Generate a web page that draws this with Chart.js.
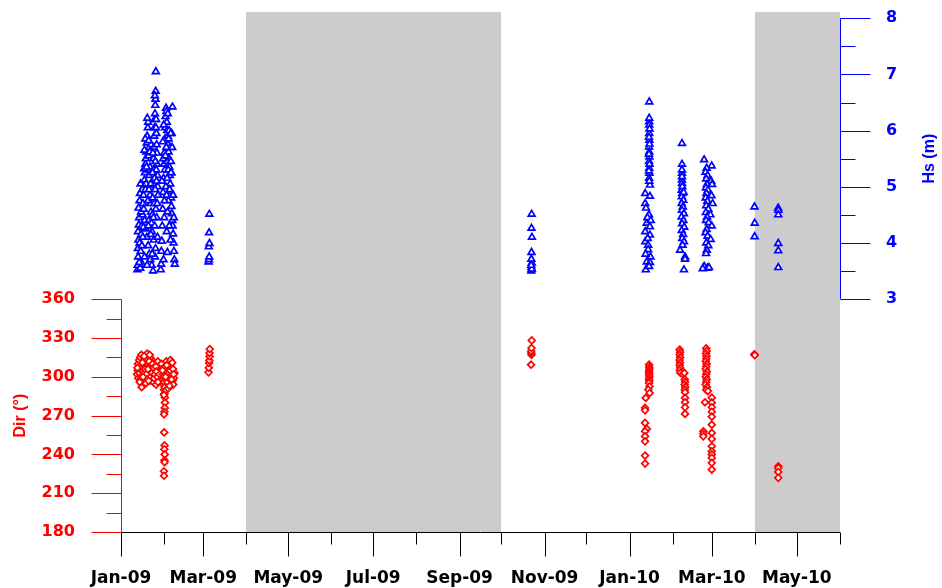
<!DOCTYPE html>
<html>
<head>
<meta charset="utf-8">
<script src="https://cdn.jsdelivr.net/npm/chart.js@4.4.1/dist/chart.umd.min.js"></script>
<style>
  html, body { margin: 0; padding: 0; background: #fff; }
  #wrap { width: 942px; height: 588px; position: relative; }
</style>
</head>
<body>
<div id="wrap"><canvas id="chart"></canvas></div>
<script>
/* x values are days since 1 Jan 2009 */
const monthStarts = [0, 31, 59, 90, 120, 151, 181, 212, 243, 273, 304, 334, 365, 396, 424, 455, 485, 516];
const monthLabels = ["Jan-09", "", "Mar-09", "", "May-09", "", "Jul-09", "", "Sep-09", "", "Nov-09", "", "Jan-10", "", "Mar-10", "", "May-10", ""];

/* Shaded periods without data (days) */
const gapStart = [90, 455];
const gapEnd = [273, 516];

const dirTicks = [180, 195, 210, 225, 240, 255, 270, 285, 300, 315, 330, 345, 360];
const hsTicks = [3, 3.5, 4, 4.5, 5, 5.5, 6, 6.5, 7, 7.5, 8];

/* Hs (m) per storm: [day, Hs] */
const hsJan09 = [
    [11.8, 3.52], [12.0, 3.6], [12.3, 3.75], [12.1, 3.9], [12.5, 4.05], [12.2, 4.2], [12.8, 4.32], [13.0, 4.45],
    [12.6, 4.62], [13.3, 4.75], [13.6, 4.88], [14.0, 5.05], [13.4, 4.0], [14.2, 3.85], [14.5, 4.15], [14.8, 4.3],
    [13.8, 3.55], [15.2, 3.62], [15.0, 3.95], [15.5, 4.5], [15.8, 4.7], [16.2, 4.85], [16.5, 5.0], [16.8, 5.12],
    [17.2, 5.25], [17.5, 5.4], [17.8, 5.5], [18.2, 5.62], [18.5, 5.78], [18.8, 5.9], [19.2, 6.05], [19.5, 6.15],
    [19.0, 5.3], [19.8, 5.55], [20.2, 5.2], [20.5, 5.0], [20.8, 4.85], [21.2, 4.7], [21.5, 4.55], [17.0, 4.4],
    [17.8, 4.25], [18.5, 4.1], [19.5, 3.95], [20.3, 3.8], [21.0, 3.7], [16.0, 4.28], [20.0, 4.4], [21.8, 4.35],
    [16.8, 5.65], [18.0, 5.05], [19.3, 4.75], [20.8, 5.35], [21.6, 5.75], [22.2, 4.2], [22.5, 4.5], [22.8, 4.8],
    [23.0, 5.05], [23.2, 5.3], [23.4, 5.5], [23.6, 5.7], [23.8, 5.9], [24.0, 6.05], [24.2, 6.2], [24.4, 6.3],
    [24.6, 6.45], [24.8, 6.56], [24.9, 6.7], [25.0, 7.05], [25.2, 6.2], [25.4, 5.95], [25.6, 5.75], [25.8, 5.6],
    [26.0, 5.4], [26.2, 5.2], [26.4, 5.0], [26.6, 4.85], [25.0, 4.6], [24.2, 4.3], [23.5, 4.05], [24.8, 3.9],
    [22.0, 3.6], [23.0, 3.5], [24.4, 3.75], [25.6, 4.45], [26.2, 4.1],
    [15.3, 4.95], [16.6, 5.32], [17.4, 5.85], [18.9, 6.22], [19.9, 5.82], [20.6, 5.62], [21.3, 5.05], [22.1, 4.95],
    [24.1, 5.15], [24.7, 5.45], [25.3, 5.3], [24.5, 4.95], [23.9, 4.7], [25.1, 6.05], [24.3, 6.62], [22.9, 5.6],
    [13.1, 3.65], [14.4, 4.55], [15.6, 4.1], [16.3, 4.6], [17.6, 4.95], [18.3, 5.35], [19.6, 4.3], [20.1, 4.95],
    [21.4, 4.15], [22.6, 5.25], [23.3, 4.45], [25.5, 5.1], [26.0, 4.7], [22.4, 3.8], [16.9, 3.75], [18.7, 3.6],
];
const hsFeb09 = [
    [28.5, 3.52], [28.8, 3.62], [29.0, 3.85], [29.3, 4.03], [29.6, 4.3], [29.9, 4.6], [30.2, 4.9], [30.5, 5.15],
    [30.8, 5.4], [31.1, 5.6], [31.4, 5.85], [31.7, 6.05], [32.0, 6.25], [32.3, 6.4], [32.6, 6.34], [32.9, 6.15],
    [33.2, 6.0], [33.5, 5.9], [33.8, 5.75], [34.1, 5.62], [34.4, 5.5], [34.7, 5.35], [35.0, 5.2], [35.3, 5.05],
    [35.6, 4.92], [35.9, 4.8], [36.2, 4.65], [36.5, 4.52], [36.8, 4.4], [37.1, 4.3], [37.4, 4.16], [37.7, 4.0],
    [38.0, 3.85], [38.3, 3.7], [38.6, 3.62], [30.0, 5.8], [30.6, 6.1], [31.5, 5.3], [32.2, 5.0], [33.0, 5.45],
    [33.6, 6.3], [34.5, 6.0], [35.2, 5.7], [35.8, 5.45], [36.4, 5.95], [36.9, 6.42], [34.0, 4.75], [31.0, 4.45],
    [32.8, 4.2], [35.5, 4.05], [33.3, 3.83], [30.5, 3.7],
    [32.5, 5.7], [33.1, 5.15], [34.2, 5.85], [34.9, 4.95], [35.7, 5.95], [36.1, 5.25], [33.9, 5.3], [32.7, 4.85],
    [29.4, 5.1], [30.3, 5.5], [31.2, 4.75], [31.9, 5.55], [33.4, 4.55], [34.6, 4.3], [35.9, 5.25], [36.7, 5.7],
    [37.4, 4.85], [37.9, 4.45],
];
const hsMar09 = [[62.9, 3.66], [63.1, 3.7], [63.3, 3.75], [63.0, 3.93], [63.5, 3.99], [63.2, 4.18], [63.4, 4.51]];
const hsOct09 = [
    [294.5, 3.5], [294.6, 3.56], [294.8, 3.64], [294.5, 3.71], [294.6, 3.83], [294.9, 4.1], [294.6, 4.26],
    [294.7, 4.51], [294.8, 3.53], [294.4, 3.6],
];
const hsJan10 = [
    [379.1, 6.51], [379.1, 6.16], [379.1, 6.1], [379.1, 5.95], [379.2, 5.83], [379.0, 5.71], [379.1, 5.62],
    [379.2, 5.53], [379.0, 5.45], [379.1, 5.33], [379.2, 5.24], [379.0, 5.15], [379.6, 5.03], [376.2, 4.88],
    [379.6, 4.83], [376.2, 4.7], [378.9, 4.5], [377.3, 4.35], [379.6, 4.29], [376.2, 4.2], [379.6, 4.14],
    [376.2, 4.02], [378.3, 3.96], [378.3, 3.88], [380.0, 3.75], [377.3, 3.66], [379.6, 3.65], [376.6, 3.52],
    [379.1, 6.22], [379.3, 6.03], [378.9, 5.88], [379.3, 5.76], [378.9, 5.58], [379.3, 5.4], [378.9, 5.28],
    [379.1, 5.1], [376.8, 4.62], [377.8, 4.45], [380.2, 4.4], [378.0, 4.08], [376.5, 3.8], [379.0, 3.58],
];
const hsFeb10 = [
    [402.6, 5.77], [402.6, 5.4], [402.6, 5.24], [402.6, 5.12], [402.6, 5.06], [402.4, 4.94], [402.8, 4.88],
    [402.5, 4.82], [403.5, 4.76], [402.4, 4.7], [403.2, 4.64], [402.6, 4.58], [404.0, 4.52], [402.3, 4.46],
    [403.6, 4.4], [402.7, 4.34], [404.2, 4.28], [402.4, 4.22], [403.4, 4.15], [402.8, 4.08], [404.0, 4.02],
    [403.0, 3.96], [401.2, 3.87], [404.8, 3.75], [404.8, 3.71], [404.0, 3.52], [402.6, 5.3], [402.6, 5.18],
    [402.9, 5.0], [403.8, 4.9],
];
const hsLateFeb10 = [
    [418.5, 5.48], [423.9, 5.37], [420.3, 5.33], [419.5, 5.26], [421.0, 5.2], [420.0, 5.14], [423.5, 5.1],
    [420.5, 5.04], [424.2, 5.04], [419.8, 4.98], [421.2, 4.94], [420.2, 4.88], [423.8, 4.84], [419.6, 4.8],
    [420.8, 4.74], [424.6, 4.7], [420.0, 4.66], [421.5, 4.6], [419.7, 4.54], [423.0, 4.5], [420.6, 4.46],
    [419.9, 4.4], [421.8, 4.36], [424.0, 4.3], [420.3, 4.24], [419.5, 4.18], [421.0, 4.12], [423.2, 4.06],
    [420.0, 4.0], [421.5, 3.95], [420.4, 3.87], [419.9, 3.81], [418.5, 3.58], [420.8, 3.55], [417.5, 3.54],
    [422.0, 3.56],
];
const hsApr10 = [
    [454.6, 4.64], [454.8, 4.35], [454.7, 4.11],
    [471.6, 4.62], [471.8, 4.58], [471.7, 4.5], [471.7, 3.99], [471.7, 3.86], [471.7, 3.56],
];

/* Wave direction (degrees) per storm: [day, Dir] */
const dirJan09 = [
    [11.5, 302], [12.0, 305], [12.4, 299], [12.8, 308], [13.2, 303], [13.6, 310], [14.0, 306], [14.4, 300],
    [14.8, 312], [15.2, 308], [15.6, 304], [16.0, 314], [16.4, 309], [16.8, 303], [17.2, 311], [17.6, 316],
    [18.0, 313], [18.4, 307], [18.8, 318], [19.2, 314], [19.6, 310], [20.0, 306], [20.4, 301], [20.8, 297],
    [21.2, 304], [21.6, 309], [22.0, 313], [22.4, 307], [22.8, 300], [23.2, 296], [23.6, 303], [24.0, 310],
    [24.4, 305], [24.8, 299], [25.2, 294], [25.6, 301], [26.0, 308], [26.4, 312], [26.8, 304], [27.2, 297],
    [14.2, 298], [16.2, 297], [19.0, 302], [21.0, 315], [14.8, 292], [17.0, 300],
    [12.2, 310], [13.0, 313], [13.8, 315], [14.6, 317], [15.4, 311], [16.6, 316], [17.4, 306], [18.2, 302],
    [18.6, 298], [19.4, 306], [20.2, 312], [20.6, 317], [21.4, 300], [22.2, 303], [22.6, 310], [23.4, 307],
    [23.8, 299], [24.2, 302], [25.0, 308], [25.4, 304], [26.2, 300], [26.6, 296], [27.6, 302], [11.8, 307],
    [13.4, 296], [15.8, 300], [17.8, 295], [19.8, 297],
];
const dirFeb09 = [
    [29.0, 310], [29.5, 306], [30.0, 302], [30.3, 298], [30.6, 294], [30.9, 290], [31.2, 287], [31.5, 284],
    [31.0, 296], [30.5, 300], [31.3, 292], [30.8, 286], [31.6, 280], [31.4, 276], [31.2, 273], [30.9, 271],
    [31.0, 257], [31.3, 247], [31.1, 244], [31.4, 240], [31.2, 235.5], [31.3, 234], [30.8, 227], [30.9, 223.5],
    [32.0, 308], [32.5, 312], [33.0, 305], [33.5, 300], [34.0, 296], [34.5, 303], [35.0, 309], [35.5, 313],
    [36.0, 306], [36.5, 301], [37.0, 297], [37.5, 294], [38.0, 299], [38.4, 303], [32.3, 290], [33.8, 291],
    [36.8, 311],
    [32.8, 309], [33.3, 296], [34.3, 299], [35.3, 305], [36.3, 298], [37.3, 306], [37.8, 302], [29.8, 305],
    [32.0, 300], [34.8, 293],
];
const dirMar09 = [[62.8, 303.5], [63.0, 307], [63.2, 310.7], [63.4, 312.7], [63.6, 315.8], [63.5, 318.4], [63.7, 321.5]];
const dirOct09 = [[294.3, 309.4], [294.6, 317], [294.5, 318.5], [294.4, 320], [294.6, 322.3], [294.8, 328.2]];
const dirJan10 = [
    [379.0, 309.4], [379.1, 307.5], [379.2, 306], [378.9, 304.5], [379.1, 303], [379.0, 301.5], [379.2, 300],
    [378.9, 298.5], [379.1, 297], [379.0, 295.3], [379.3, 292.6], [378.5, 290.1], [379.4, 287.5], [376.6, 283.7],
    [376.1, 276], [376.1, 274.1], [376.1, 264.4], [377.3, 259.7], [376.1, 257.9], [376.1, 254], [376.1, 250.1],
    [376.1, 239.1], [376.1, 232.9],
];
const dirFeb10 = [
    [401.0, 321], [401.2, 319], [401.0, 317], [401.3, 315], [400.9, 313], [401.2, 311], [401.0, 309],
    [401.3, 307], [401.1, 305], [401.5, 303], [403.2, 302], [404.3, 303], [404.6, 298], [404.8, 296],
    [404.5, 294], [404.9, 292], [404.6, 290], [404.8, 288], [404.8, 283.7], [404.8, 280.3], [404.8, 276.4],
    [404.8, 271.3],
];
const dirLateFeb10 = [
    [420.0, 322], [420.3, 320], [419.8, 318], [420.2, 316], [420.0, 314], [419.7, 312], [420.3, 310],
    [420.0, 308], [419.6, 306], [420.4, 304], [420.0, 302], [419.7, 300], [420.3, 298], [420.0, 296],
    [419.6, 294], [420.5, 292], [420.0, 290], [421.2, 289], [419.1, 280.3], [424.0, 283.9], [424.0, 280],
    [424.0, 276.5], [424.0, 273], [424.0, 269.2], [424.0, 263], [417.9, 257.9], [417.9, 256], [417.9, 254],
    [424.0, 256.6], [424.0, 252], [424.0, 246.3], [424.0, 242.4], [424.0, 240], [424.0, 237.3], [424.0, 233.5],
    [424.0, 228.3],
];
const dirApr10 = [
    [454.5, 317.5], [454.8, 316.8],
    [471.7, 230.8], [471.7, 229.5], [471.7, 226.5], [471.7, 221.9],
];

const COLORS = {
    dir: "#ff0000",
    hs: "#0000ff",
    gap: "#cccccc",
    axis: "#000000",
};

const toXY = pts => pts.map(p => ({ x: p[0], y: p[1] }));

const hsData = toXY([].concat(hsJan09, hsFeb09, hsMar09, hsOct09, hsJan10, hsFeb10, hsLateFeb10, hsApr10));
const dirData = toXY([].concat(dirJan09, dirFeb09, dirMar09, dirOct09, dirJan10, dirFeb10, dirLateFeb10, dirApr10));

/* Shaded gaps, hand-drawn axes and titles */
const decorations = {
    id: "decorations",
    beforeDatasetsDraw(chart) {
        const { ctx, chartArea, scales } = chart;
        ctx.save();
        ctx.fillStyle = COLORS.gap;
        gapStart.forEach((s, i) => {
            const x0 = Math.round(scales.x.getPixelForValue(s));
            const x1 = Math.round(scales.x.getPixelForValue(gapEnd[i]));
            ctx.fillRect(x0, chartArea.top, x1 - x0, chartArea.bottom - chartArea.top);
        });
        ctx.restore();
    },
    afterDraw(chart) {
        const { ctx, chartArea, scales } = chart;
        const px = v => Math.round(v) + 0.5;
        ctx.save();
        ctx.lineWidth = 1;

        // x axis
        const yb = px(chartArea.bottom);
        ctx.strokeStyle = COLORS.axis;
        ctx.beginPath();
        ctx.moveTo(scales.x.getPixelForValue(monthStarts[0]), yb);
        ctx.lineTo(scales.x.getPixelForValue(monthStarts[monthStarts.length - 1]), yb);
        monthStarts.forEach((m, i) => {
            const x = px(scales.x.getPixelForValue(m));
            ctx.moveTo(x, yb);
            ctx.lineTo(x, yb + (monthLabels[i] ? 24 : 12));
        });
        ctx.stroke();

        // Dir axis (left)
        const xl = px(chartArea.left);
        ctx.strokeStyle = COLORS.dir;
        ctx.beginPath();
        ctx.moveTo(xl, scales.dir.getPixelForValue(dirTicks[0]));
        ctx.lineTo(xl, scales.dir.getPixelForValue(dirTicks[dirTicks.length - 1]));
        dirTicks.forEach(v => {
            const y = px(scales.dir.getPixelForValue(v));
            ctx.moveTo(xl, y);
            ctx.lineTo(xl - (v % 30 === 0 ? 30 : 15), y);
        });
        ctx.stroke();

        // Hs axis (right)
        const xr = px(chartArea.right);
        ctx.strokeStyle = COLORS.hs;
        ctx.beginPath();
        ctx.moveTo(xr, scales.hs.getPixelForValue(hsTicks[0]));
        ctx.lineTo(xr, scales.hs.getPixelForValue(hsTicks[hsTicks.length - 1]));
        hsTicks.forEach(v => {
            const y = px(scales.hs.getPixelForValue(v));
            ctx.moveTo(xr, y);
            ctx.lineTo(xr + (Number.isInteger(v) ? 30 : 15), y);
        });
        ctx.stroke();

        // axis titles, both reading bottom to top
        ctx.font = "bold 16px 'Liberation Sans', Arial, sans-serif";
        ctx.textAlign = "center";
        ctx.textBaseline = "middle";
        const dirMid = (scales.dir.getPixelForValue(180) + scales.dir.getPixelForValue(360)) / 2;
        ctx.save();
        ctx.translate(21, dirMid);
        ctx.rotate(-Math.PI / 2);
        ctx.fillStyle = COLORS.dir;
        ctx.fillText("Dir (°)", 0, 0);
        ctx.restore();
        const hsMid = (scales.hs.getPixelForValue(3) + scales.hs.getPixelForValue(8)) / 2;
        ctx.save();
        ctx.translate(930, hsMid);
        ctx.rotate(-Math.PI / 2);
        ctx.fillStyle = COLORS.hs;
        ctx.fillText("Hs (m)", 0, 0);
        ctx.restore();

        ctx.restore();
    },
};

const tickFont = { family: "'DejaVu Sans', sans-serif", weight: "bold", size: 16 };
// grid hidden; tickLength only offsets the labels (marks are drawn by the plugin)
const hiddenGrid = { display: false, drawTicks: true, tickLength: 46 };

new Chart(document.getElementById("chart"), {
    type: "scatter",
    data: {
        datasets: [
            {
                label: "Hs",
                data: hsData,
                yAxisID: "hs",
                pointStyle: "triangle",
                pointRadius: 3.9,
                pointBorderWidth: 1.7,
                borderColor: COLORS.hs,
                backgroundColor: "#ffffff",
            },
            {
                label: "Dir",
                data: dirData,
                yAxisID: "dir",
                pointStyle: "rectRot",
                pointRadius: 3.4,
                pointBorderWidth: 1.7,
                borderColor: COLORS.dir,
                backgroundColor: "#ffffff",
            },
        ],
    },
    options: {
        responsive: true,
        maintainAspectRatio: false,
        animation: false,
        layout: { padding: { top: 12, left: 0, right: 0, bottom: 0 }, autoPadding: false },
        plugins: {
            legend: { display: false },
            tooltip: { enabled: false },
        },
        scales: {
            x: {
                type: "linear",
                position: "bottom",
                min: 0,
                max: 516,
                afterBuildTicks: s => { s.ticks = monthStarts.map(v => ({ value: v })); },
                afterFit: s => { s.height = 56; },
                grid: { display: false, drawTicks: false },
                border: { display: false },
                ticks: {
                    autoSkip: false,
                    maxRotation: 0,
                    minRotation: 0,
                    padding: 36,
                    color: "#000000",
                    font: { family: "'DejaVu Sans', sans-serif", weight: "bold", size: 17 },
                    callback: (v, i) => monthLabels[i],
                },
            },
            dir: {
                type: "linear",
                position: "left",
                min: 180,
                max: 582.2,
                afterBuildTicks: s => { s.ticks = dirTicks.map(v => ({ value: v })); },
                afterFit: s => { s.width = 121; },
                grid: hiddenGrid,
                border: { display: false },
                ticks: {
                    padding: 0,
                    color: COLORS.dir,
                    font: tickFont,
                    callback: v => (v % 30 === 0 ? v : ""),
                },
            },
            hs: {
                type: "linear",
                position: "right",
                min: -1.15,
                max: 8.112,
                afterBuildTicks: s => { s.ticks = hsTicks.map(v => ({ value: v })); },
                afterFit: s => { s.width = 102; },
                grid: hiddenGrid,
                border: { display: false },
                ticks: {
                    padding: 0,
                    color: COLORS.hs,
                    font: tickFont,
                    callback: v => (Number.isInteger(v) ? v : ""),
                },
            },
        },
    },
    plugins: [decorations],
});
</script>
</body>
</html>
